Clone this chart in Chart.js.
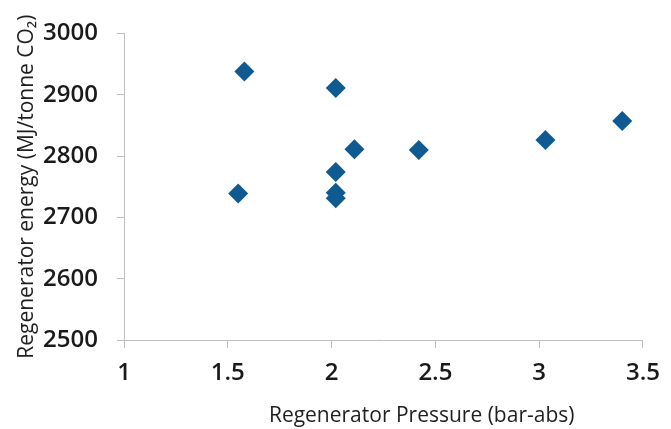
<!DOCTYPE html>
<html>
<head>
<meta charset="utf-8">
<script src="https://cdn.jsdelivr.net/npm/chart.js@4/dist/chart.umd.min.js"></script>
<style>
  html, body { margin: 0; padding: 0; background: #ffffff; }
  #wrap { width: 671px; height: 429px; position: relative; }
</style>
</head>
<body>
<div id="wrap"><canvas id="c" width="671" height="429"></canvas></div>
<script>
// Data
const pressure = [1.58, 2.02, 2.11, 2.42, 2.02, 2.02, 2.02, 1.55, 3.03, 3.40];
const energy   = [2938, 2911, 2811, 2810, 2774, 2740, 2731, 2739, 2826, 2857];
const xTicks = [1, 1.5, 2, 2.5, 3, 3.5];
const yTicks = [2500, 2600, 2700, 2800, 2900, 3000];
const xTitle = 'Regenerator Pressure (bar-abs)';
const yTitle = 'Regenerator energy (MJ/tonne CO\u2082)';

const points = pressure.map((p, i) => ({ x: p, y: energy[i] }));
const axisColor = '#bfbfbf';
const tickFont = { family: '"Open Sans", sans-serif', size: 24, weight: '600' };
const titleFont = { family: '"Open Sans", sans-serif', size: 21, weight: '400' };

new Chart(document.getElementById('c'), {
  type: 'scatter',
  data: {
    datasets: [{
      data: points,
      pointStyle: 'rectRot',
      pointRadius: 10,
      pointHoverRadius: 10,
      backgroundColor: '#0e5a91',
      borderColor: '#0e5a91',
      borderWidth: 0
    }]
  },
  options: {
    responsive: false,
    animation: false,
    devicePixelRatio: 1,
    layout: { padding: { left: 0, right: 19, top: 28, bottom: 0 } },
    plugins: { legend: { display: false }, tooltip: { enabled: false } },
    scales: {
      x: {
        type: 'linear',
        min: xTicks[0],
        max: xTicks[xTicks.length - 1],
        afterBuildTicks: s => { s.ticks = xTicks.map(v => ({ value: v })); },
        afterFit: s => { s.height = 89; },
        border: { display: true, color: axisColor, width: 1 },
        grid: { display: true, drawOnChartArea: false, drawTicks: true, tickLength: 8, color: axisColor },
        ticks: { color: '#1a1a1a', font: tickFont, padding: 11, maxRotation: 0, autoSkip: false,
                 callback: v => String(v) },
        title: {
          display: true,
          text: '              ' + xTitle,
          color: '#1f1f1f',
          font: titleFont,
          padding: { top: 1, bottom: 0 }
        }
      },
      y: {
        type: 'linear',
        min: yTicks[0],
        max: yTicks[yTicks.length - 1],
        afterBuildTicks: s => { s.ticks = yTicks.map(v => ({ value: v })); },
        afterFit: s => { s.width = 124; },
        border: { display: true, color: axisColor, width: 1 },
        grid: { display: true, drawOnChartArea: false, drawTicks: true, tickLength: 7, color: axisColor },
        ticks: { color: '#1a1a1a', font: tickFont, padding: 19, autoSkip: false,
                 callback: v => String(v) },
        title: {
          display: true,
          text: yTitle,
          color: '#1f1f1f',
          font: titleFont,
          padding: { top: 14, bottom: 0 }
        }
      }
    }
  }
});
</script>
</body>
</html>
